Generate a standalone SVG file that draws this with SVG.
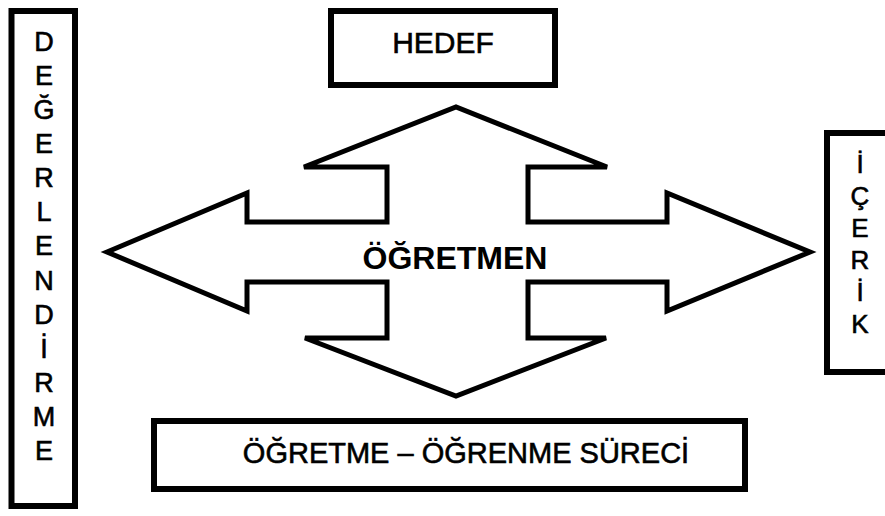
<svg xmlns="http://www.w3.org/2000/svg" width="885" height="516" viewBox="0 0 885 516">
  <style>
    .box { fill: #ffffff; stroke: #000000; stroke-width: 6; }
    .arrow { fill: #ffffff; stroke: #000000; stroke-width: 5; stroke-linejoin: miter; }
    .lbl { font-family: "Liberation Sans", Arial, sans-serif; fill: #000000; text-anchor: middle; }
    .reg { stroke: #000000; stroke-width: 0.6; }
    .vl { font-size: 27px; }
    .vr { font-size: 26px; }
  </style>
  <rect width="885" height="516" fill="#ffffff"/>
  <g id="connectors">
    <polygon class="arrow" points="107,252 247,193 247,222 387,222 387,167 304,167 456,107 607,167 528,167 528,222 667,222 667,193 810,252 667,311 667,282 528,282 528,338 606,338 456,396 305,338 387,338 387,282 247,282 247,311"/>
  </g>
  <g id="ogretmen">
    <text class="lbl" x="455" y="269" font-size="31" font-weight="bold" textLength="185" lengthAdjust="spacingAndGlyphs">ÖĞRETMEN</text>
  </g>
  <g id="hedef">
    <rect class="box" x="331" y="11" width="224" height="74"/>
    <text class="lbl reg" x="443" y="53" font-size="30">HEDEF</text>
  </g>
  <g id="degerlendirme">
    <rect class="box" x="11.5" y="11" width="63.5" height="495"/>
    <text class="lbl reg vl" x="44" y="51">D</text>
    <text class="lbl reg vl" x="44" y="85">E</text>
    <text class="lbl reg vl" x="44" y="119">Ğ</text>
    <text class="lbl reg vl" x="44" y="153">E</text>
    <text class="lbl reg vl" x="44" y="187">R</text>
    <text class="lbl reg vl" x="44" y="221">L</text>
    <text class="lbl reg vl" x="44" y="255">E</text>
    <text class="lbl reg vl" x="44" y="290">N</text>
    <text class="lbl reg vl" x="44" y="324">D</text>
    <text class="lbl reg vl" x="44" y="358">İ</text>
    <text class="lbl reg vl" x="44" y="392">R</text>
    <text class="lbl reg vl" x="44" y="426">M</text>
    <text class="lbl reg vl" x="44" y="460">E</text>
  </g>
  <g id="icerik">
    <rect class="box" x="827" y="133" width="70" height="239"/>
    <text class="lbl reg vr" x="860" y="173">İ</text>
    <text class="lbl reg vr" x="860" y="205">Ç</text>
    <text class="lbl reg vr" x="860" y="237">E</text>
    <text class="lbl reg vr" x="860" y="269">R</text>
    <text class="lbl reg vr" x="860" y="301">İ</text>
    <text class="lbl reg vr" x="860" y="333">K</text>
  </g>
  <g id="surec">
    <rect class="box" x="154" y="421" width="591" height="68"/>
    <text class="lbl reg" x="466" y="463" font-size="29">ÖĞRETME – ÖĞRENME SÜRECİ</text>
  </g>
</svg>
